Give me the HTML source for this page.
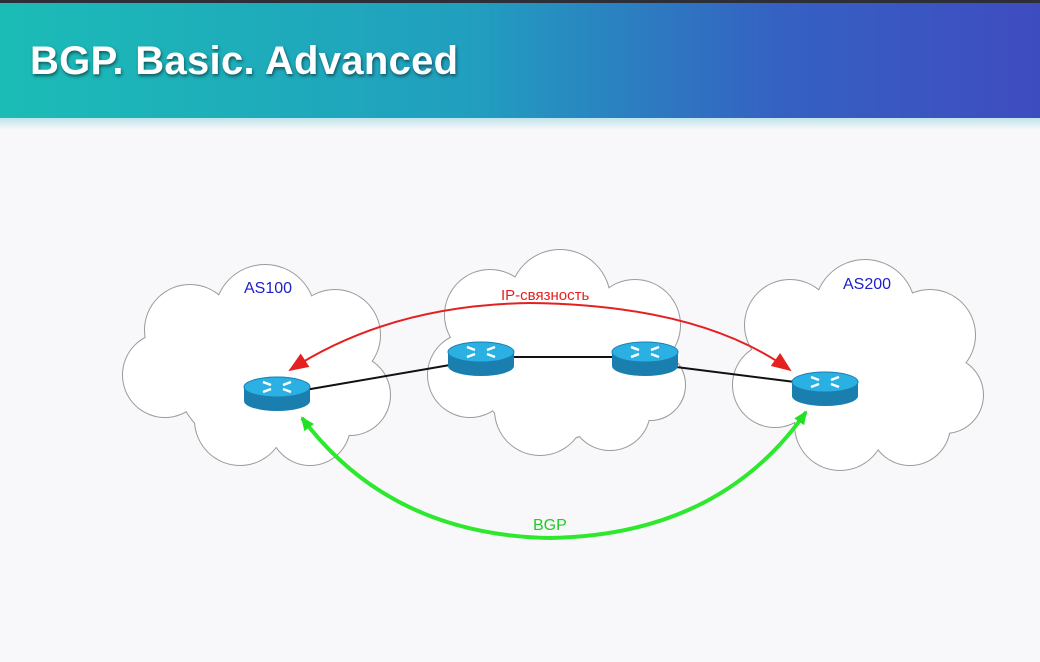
<!DOCTYPE html>
<html><head><meta charset="utf-8"><style>
body{margin:0;width:1040px;height:662px;overflow:hidden;background:#f8f8fb;font-family:"Liberation Sans","Noto Sans CJK SC",sans-serif}
.hd{position:absolute;left:0;top:0;width:1040px;height:118px;background:linear-gradient(90deg,#1bbcb6 0%,#219fbf 45%,#3561c2 75%,#3f4cc0 100%);border-top:3px solid #2c2f38;box-sizing:border-box}
.fade{position:absolute;left:0;top:118px;width:1040px;height:12px;background:linear-gradient(#bfe3ea,#f8f8fb)}
.t{position:absolute;left:30px;top:39px;font-size:40px;color:#fff;font-weight:bold;text-shadow:1px 2px 3px rgba(0,0,0,.5);letter-spacing:0.3px}
</style></head><body>
<div class="hd"></div><div class="fade"></div>
<div class="t">BGP. Basic. Advanced</div>
<svg width="1040" height="662" style="position:absolute;left:0;top:0">
<defs>
<g id="c1"><circle cx="190" cy="330" r="45"/><circle cx="265" cy="315" r="50"/><circle cx="335" cy="335" r="45"/><circle cx="165" cy="375" r="42"/><circle cx="350" cy="395" r="40"/><circle cx="240" cy="420" r="45"/><circle cx="310" cy="425" r="40"/><circle cx="255" cy="370" r="80"/></g>
<g id="c2"><circle cx="490" cy="315" r="45"/><circle cx="560" cy="300" r="50"/><circle cx="635" cy="325" r="45"/><circle cx="470" cy="375" r="42"/><circle cx="650" cy="385" r="35"/><circle cx="540" cy="410" r="45"/><circle cx="610" cy="410" r="40"/><circle cx="555" cy="360" r="80"/></g>
<g id="c3"><circle cx="790" cy="325" r="45"/><circle cx="865" cy="310" r="50"/><circle cx="930" cy="335" r="45"/><circle cx="775" cy="385" r="42"/><circle cx="945" cy="395" r="38"/><circle cx="840" cy="425" r="45"/><circle cx="910" cy="425" r="40"/><circle cx="860" cy="370" r="80"/></g>
<g id="rt"><path d="M-33,0 v14 a33,10 0 0 0 66,0 v-14z" fill="#1a7fae"/><ellipse cx="0" cy="0" rx="33" ry="10" fill="#2bb0e4" stroke="#1a7fae"/><path d="M-14,-5 l8,3 M14,5 l-8,-3 M14,-5 l-8,3 M-14,5 l8,-3" stroke="#fff" stroke-width="2.5"/></g>
<marker id="ar" markerWidth="10" markerHeight="8" refX="9" refY="4" orient="auto"><path d="M0,0 L10,4 L0,8z" fill="#e52020"/></marker>
<marker id="ag" markerUnits="userSpaceOnUse" markerWidth="14" markerHeight="12" refX="12" refY="6" orient="auto"><path d="M0,0 L14,6 L0,12z" fill="#22e022"/></marker>
</defs>
<g fill="#fff" stroke="#9a9a9a" stroke-width="2"><use href="#c1"/><use href="#c2"/><use href="#c3"/></g>
<g fill="#fff" stroke="none"><use href="#c1"/><use href="#c2"/><use href="#c3"/></g>
<g stroke="#111" stroke-width="2"><line x1="305" y1="390" x2="450" y2="365"/><line x1="513" y1="357" x2="613" y2="357"/><line x1="676" y1="367" x2="795" y2="382"/></g>
<use href="#rt" x="277" y="387"/><use href="#rt" x="481" y="352"/><use href="#rt" x="645" y="352"/><use href="#rt" x="825" y="382"/>
<path d="M530,303 Q390,305 290,370" fill="none" stroke="#e52020" stroke-width="2" marker-end="url(#ar)"/>
<path d="M530,303 Q700,305 790,370" fill="none" stroke="#e52020" stroke-width="2" marker-end="url(#ar)"/>
<path d="M550,538 Q390,535 302,418" fill="none" stroke="#2ee82e" stroke-width="4" marker-end="url(#ag)"/>
<path d="M550,538 Q720,535 806,412" fill="none" stroke="#2ee82e" stroke-width="4" marker-end="url(#ag)"/>
<g font-family="Liberation Sans,sans-serif" font-size="16"><text x="244" y="293" fill="#2020c8">AS100</text><text x="843" y="289" fill="#2020c8">AS200</text><text x="501" y="300" fill="#e52020" font-size="15">IP-связность</text><text x="533" y="530" fill="#22cc22">BGP</text></g>
</svg>
</body></html>
